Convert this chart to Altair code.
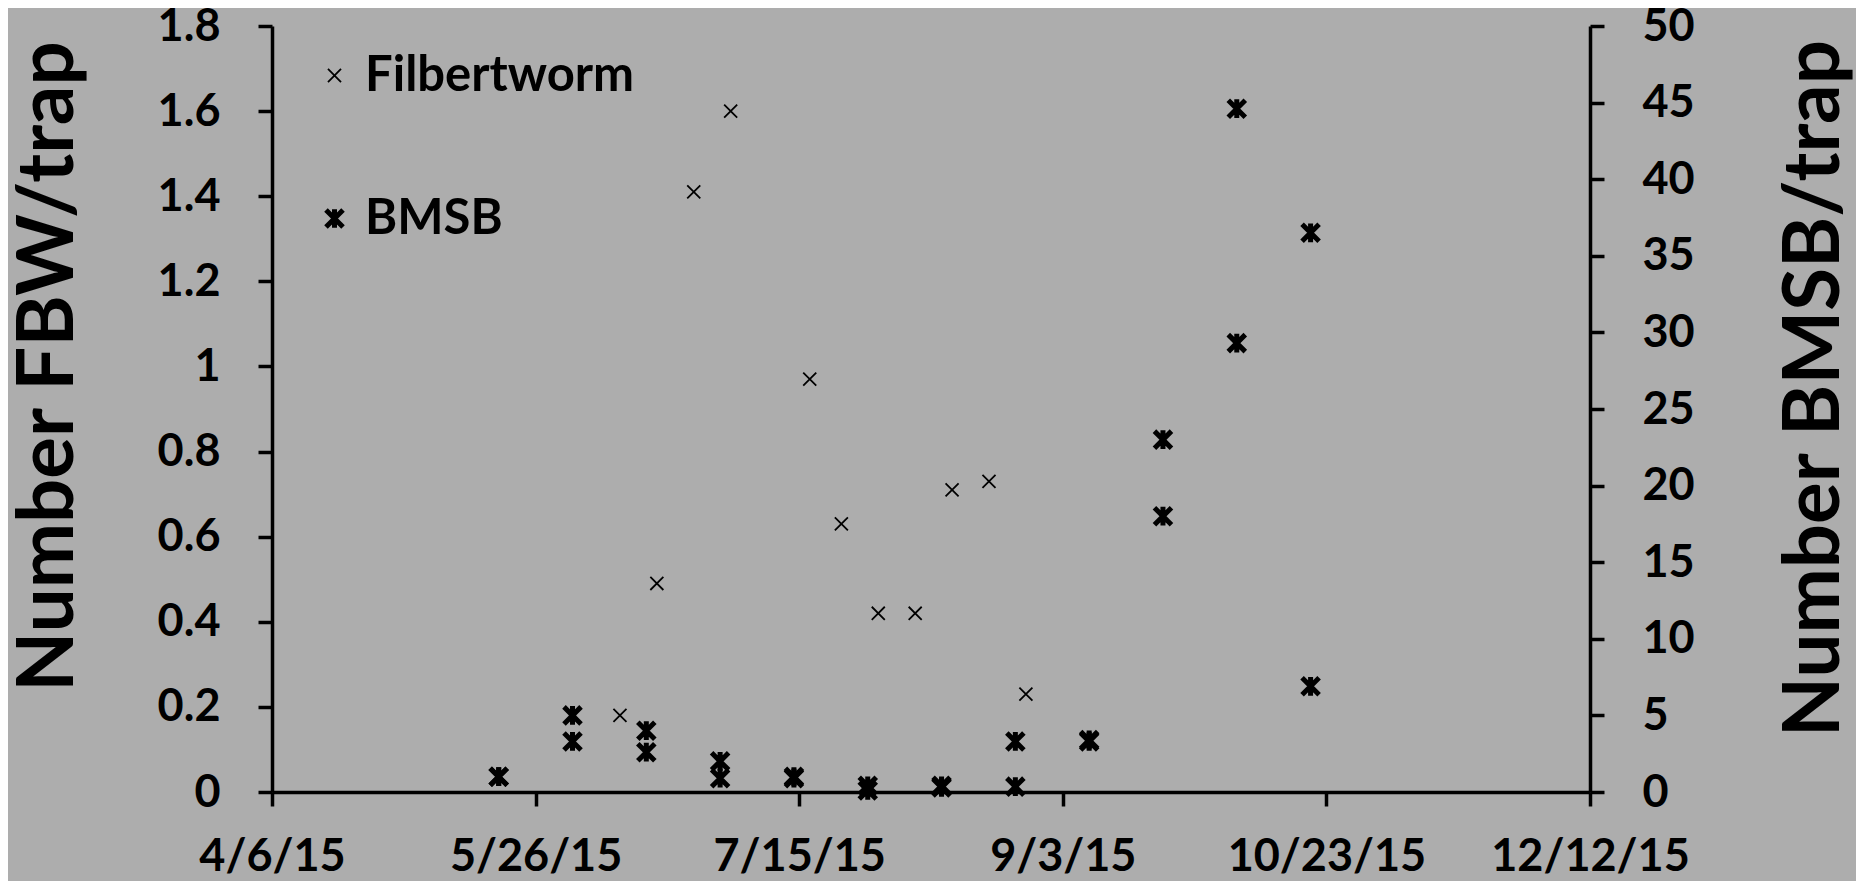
import altair as alt
import pandas as pd

# ---- data ----
fbw_dates = ["2015-06-11", "2015-06-18", "2015-06-25", "2015-07-02", "2015-07-17",
             "2015-07-23", "2015-07-30", "2015-08-06", "2015-08-13", "2015-08-20",
             "2015-08-27"]
fbw_values = [0.18, 0.49, 1.41, 1.60, 0.97, 0.63, 0.42, 0.42, 0.71, 0.73, 0.23]

bmsb_dates = ["2015-05-19", "2015-05-19", "2015-06-02", "2015-06-02",
              "2015-06-16", "2015-06-16", "2015-06-30", "2015-06-30",
              "2015-07-14", "2015-07-14", "2015-07-28", "2015-07-28",
              "2015-08-11", "2015-08-11", "2015-08-25", "2015-08-25",
              "2015-09-08", "2015-09-08", "2015-09-22", "2015-09-22",
              "2015-10-06", "2015-10-06", "2015-10-20", "2015-10-20"]
bmsb_values = [1.0, 1.0, 5.0, 3.3,
               4.0, 2.6, 2.0, 0.9,
               1.0, 0.9, 0.4, 0.1,
               0.4, 0.3, 3.3, 0.35,
               3.3, 3.4, 23.0, 18.0,
               44.6, 29.3, 36.5, 6.9]

series_names = ["Filbertworm", "BMSB"]
x_tick_dates = ["2015-04-06", "2015-05-26", "2015-07-15", "2015-09-03",
                "2015-10-23", "2015-12-12"]
left_ticks = [0, 0.2, 0.4, 0.6, 0.8, 1, 1.2, 1.4, 1.6, 1.8]
right_ticks = [0, 5, 10, 15, 20, 25, 30, 35, 40, 45, 50]
left_title = "Number FBW/trap"
right_title = "Number BMSB/trap"

# ---- tables ----
fbw_df = pd.DataFrame({"date": fbw_dates, "value": fbw_values,
                       "series": series_names[0]})
bmsb_df = pd.DataFrame({"date": bmsb_dates, "value": bmsb_values,
                        "series": series_names[1]})


def dt(s):
    y, m, d = (int(p) for p in s.split("-"))
    return alt.DateTime(year=y, month=m, date=d, utc=True)


FONT = "Lato"
X_PATH = "M-1,-1L1,1M-1,1L1,-1"
STAR_PATH = "M-1,-1L1,1M-1,1L1,-1M0,-1.1L0,1.1"

x_enc = alt.X(
    "date:T",
    scale=alt.Scale(type="utc", domain=[dt(x_tick_dates[0]), dt(x_tick_dates[-1])]),
    axis=alt.Axis(values=[dt(s) for s in x_tick_dates], format="%-m/%-d/%y",
                  title=None, labelPadding=28, labelFlush=False,
                  labelOverlap=False, labelBound=False, labelLimit=0),
)

legend = alt.Legend(
    title=None, orient="none", legendX=38, legendY=25, direction="vertical",
    padding=0, rowPadding=93, labelOffset=6, labelLimit=0,
    labelFont=FONT, labelFontSize=49, labelFontWeight="bold", labelColor="black",
    symbolStrokeColor="black", symbolFillColor="transparent",
)
shape_enc = alt.Shape("series:N", scale=alt.Scale(domain=series_names, range=[X_PATH, STAR_PATH]),
                      legend=legend)
size_enc = alt.Size("series:N", scale=alt.Scale(domain=series_names, range=[170, 290]),
                    legend=legend)
sw_enc = alt.StrokeWidth("series:N", scale=alt.Scale(domain=series_names, range=[1.8, 5.0]),
                         legend=legend)

fbw_layer = alt.Chart(fbw_df).mark_point(filled=False, color="black", opacity=1).encode(
    x=x_enc,
    y=alt.Y("value:Q", scale=alt.Scale(domain=[0, 1.8], nice=False, zero=True),
            axis=alt.Axis(orient="left", values=left_ticks, format="~g",
                          title=left_title, titleAngle=270, titleX=-200, titleY=340,
                          titleAlign="center", titleBaseline="alphabetic")),
    shape=shape_enc, size=size_enc, strokeWidth=sw_enc,
)

bmsb_layer = alt.Chart(bmsb_df).mark_point(filled=False, color="black", opacity=1).encode(
    x=x_enc,
    y=alt.Y("value:Q", scale=alt.Scale(domain=[0, 50], nice=False, zero=True),
            axis=alt.Axis(orient="right", values=right_ticks, format="~g",
                          title=right_title, titleAngle=270, titleX=248, titleY=362,
                          titleAlign="center", titleBaseline="alphabetic")),
    shape=shape_enc, size=size_enc, strokeWidth=sw_enc,
)

chart = (
    alt.layer(fbw_layer, bmsb_layer)
    .resolve_scale(y="independent")
    .properties(width=1318, height=766, autosize=alt.AutoSizeParams(type="none"),
                padding={"left": 264, "top": 18, "right": 266, "bottom": 89},
                background="#adadad")
    .configure_view(strokeWidth=0)
    .configure_axis(
        domainColor="black", domainWidth=3.5, tickColor="black", tickWidth=3.5,
        tickSize=14, grid=False, labelFont=FONT, labelFontSize=45,
        labelFontWeight="bold", labelColor="black", labelPadding=38, labelLimit=0,
        titleFont=FONT, titleFontSize=78, titleFontWeight="bold", titleColor="black",
    )
)

chart.save("out.html", embed_options={"renderer": "svg", "actions": False})
